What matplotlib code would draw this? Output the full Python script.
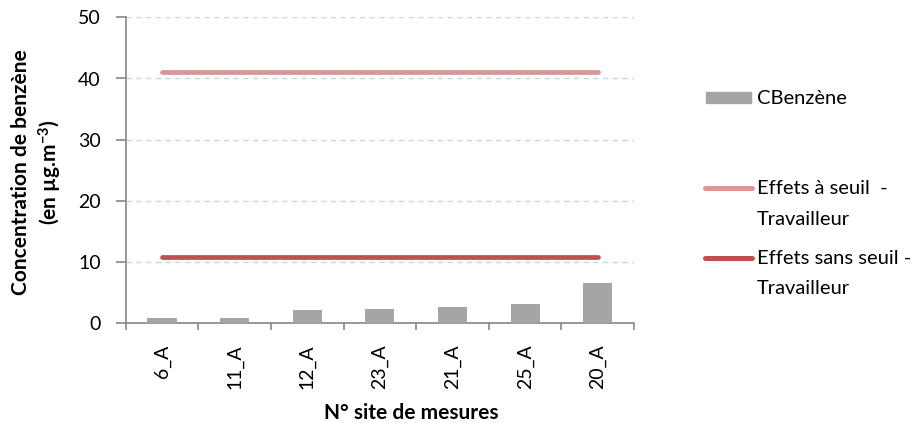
import matplotlib
matplotlib.use("Agg")
import matplotlib.pyplot as plt
from matplotlib.lines import Line2D
from matplotlib.patches import Rectangle

plt.rcParams['font.family'] = ['Lato', 'DejaVu Sans']
plt.rcParams['mathtext.fontset'] = 'custom'
plt.rcParams['mathtext.rm'] = 'Lato'
plt.rcParams['mathtext.bf'] = 'Lato:bold'

# Data
sites = ["6_A", "11_A", "12_A", "23_A", "21_A", "25_A", "20_A"]
c_benzene = [0.9, 0.9, 2.1, 2.3, 2.6, 3.2, 6.6]
seuil_travailleur = 41.0
sans_seuil_travailleur = 10.9

bar_color = "#A5A5A5"
light_red = "#D99694"
dark_red = "#C0504D"
axis_gray = "#868686"

W, H = 922, 423
fig = plt.figure(figsize=(W / 100, H / 100), dpi=100)
ax = fig.add_axes([125.7 / W, 1 - 323.3 / H, (634 - 125.7) / W, (323.3 - 17.3) / H])

x = list(range(len(sites)))
ax.bar(x, c_benzene, width=0.4, color=bar_color, zorder=3)
ax.plot([x[0], x[-1]], [seuil_travailleur] * 2, color=light_red, lw=3.4,
        solid_capstyle="round", zorder=4)
ax.plot([x[0], x[-1]], [sans_seuil_travailleur] * 2, color=dark_red, lw=3.4,
        solid_capstyle="round", zorder=4)

ax.set_xlim(-0.5, len(sites) - 0.5)
ax.set_ylim(0, 50)
ax.set_yticks(range(0, 51, 10))
ax.yaxis.grid(True, color="#C9D5EE", linestyle=(0, (4, 3)), linewidth=1.0, zorder=0)
ax.set_axisbelow(True)

ax.set_xticks(x)
ax.set_xticklabels(sites, rotation=90, fontsize=14)
ax.set_xticks([i - 0.5 for i in range(len(sites) + 1)], minor=True)
ax.tick_params(axis="x", which="major", length=0, pad=15)
ax.tick_params(axis="x", which="minor", length=5, color=axis_gray, width=1.2)
ax.tick_params(axis="y", length=7, color=axis_gray, width=1.2, labelsize=14, pad=11)

for s in ("top", "right"):
    ax.spines[s].set_visible(False)
for s in ("left", "bottom"):
    ax.spines[s].set_color(axis_gray)
    ax.spines[s].set_linewidth(1.2)


def fy(py):
    return 1 - py / H


fig.text(37.5 / W, fy(172), "Concentration de benzène\n(en µg.m$\\mathbf{^{-3}}$)",
         rotation=90, ha="center", va="center", fontsize=15, fontweight="bold",
         linespacing=1.25, multialignment="center")
fig.text(411 / W, fy(413), "N° site de mesures", ha="center", va="center",
         fontsize=15, fontweight="bold")

# Legend drawn in figure pixel coordinates
fig.patches.append(Rectangle((706 / W, fy(103)), 45 / W, 11 / H, color=bar_color,
                             transform=fig.transFigure, figure=fig))
fig.text(757 / W, fy(98), "CBenzène", va="center", fontsize=14.5)
fig.add_artist(Line2D([705 / W, 752 / W], [fy(188)] * 2, color=light_red, lw=3.6,
                      solid_capstyle="round", transform=fig.transFigure))
fig.text(757 / W, fy(188), "Effets à seuil  -", va="center", fontsize=14.5)
fig.text(757 / W, fy(219), "Travailleur", va="center", fontsize=14.5)
fig.add_artist(Line2D([705 / W, 752 / W], [fy(258)] * 2, color=dark_red, lw=3.6,
                      solid_capstyle="round", transform=fig.transFigure))
fig.text(757 / W, fy(258), "Effets sans seuil -", va="center", fontsize=14.5)
fig.text(757 / W, fy(289), "Travailleur", va="center", fontsize=14.5)

fig.savefig("out.png", dpi=100)
